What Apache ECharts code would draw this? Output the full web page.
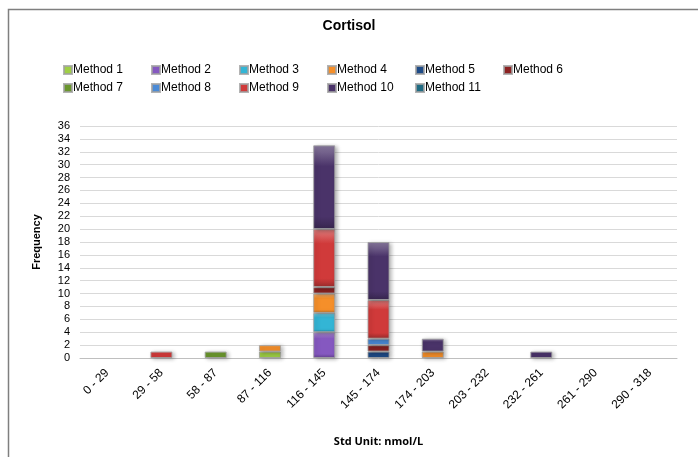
<!DOCTYPE html>
<html>
<head>
<meta charset="utf-8">
<script src="https://cdn.jsdelivr.net/npm/echarts@6/dist/echarts.min.js"></script>
<style>
html,body{margin:0;padding:0;background:#fff;}
#chart{width:698px;height:457px;}
</style>
</head>
<body>
<div id="chart"></div>
<script>
var categories = ['0 - 29','29 - 58','58 - 87','87 - 116','116 - 145','145 - 174','174 - 203','203 - 232','232 - 261','261 - 290','290 - 318'];
var seriesNames = ['Method 1','Method 2','Method 3','Method 4','Method 5','Method 6','Method 7','Method 8','Method 9','Method 10','Method 11'];
var method1  = [0,0,0,1,0,0,0,0,0,0,0];
var method2  = [0,0,0,0,4,0,0,0,0,0,0];
var method3  = [0,0,0,0,3,0,0,0,0,0,0];
var method4  = [0,0,0,1,3,0,1,0,0,0,0];
var method5  = [0,0,0,0,0,1,0,0,0,0,0];
var method6  = [0,0,0,0,1,1,0,0,0,0,0];
var method7  = [0,0,1,0,0,0,0,0,0,0,0];
var method8  = [0,0,0,0,0,1,0,0,0,0,0];
var method9  = [0,1,0,0,9,6,0,0,0,0,0];
var method10 = [0,0,0,0,13,9,2,0,1,0,0];
var method11 = [0,0,0,0,0,0,0,0,0,0,0];
var yTicks = {min:0, max:36, interval:2};

var values = [method1,method2,method3,method4,method5,method6,method7,method8,method9,method10,method11];
var colors = ['#9fcf45','#8558c0','#33b5d5','#f58f2a','#1e4b87','#8c2222','#6a962d','#4a8ad6','#d03a3a','#4a3369','#1f6b82'];

function shade(hex, amt){
  var n = parseInt(hex.slice(1),16);
  var r=(n>>16)&255,g=(n>>8)&255,b=n&255;
  function f(c){ return Math.max(0,Math.min(255,Math.round(amt>0? c+(255-c)*amt : c*(1+amt)))); }
  return 'rgb('+f(r)+','+f(g)+','+f(b)+')';
}

var series = seriesNames.map(function(name,i){
  var c = colors[i];
  return {
    name: name,
    type: 'bar',
    stack: 'total',
    barWidth: 22,
    data: values[i].map(function(v){ return v === 0 ? '-' : v; }),
    itemStyle: {
      color: {
        type:'linear', x:0, y:0, x2:0, y2:1,
        colorStops:[
          {offset:0, color: shade(c,0.35)},
          {offset:0.25, color: c},
          {offset:0.85, color: c},
          {offset:1, color: shade(c,-0.25)}
        ]
      },
      borderColor: 'rgba(160,160,160,0.8)',
      borderWidth: 1,
      shadowColor: 'rgba(0,0,0,0.3)',
      shadowBlur: 4,
      shadowOffsetX: 2,
      shadowOffsetY: 1
    }
  };
});

var font = "'Liberation Sans', Arial, sans-serif";
var legends = seriesNames.map(function(name,i){
  var col = i % 6, row = Math.floor(i / 6);
  return {
    data: [name],
    left: 63 + col * 88,
    top: 64 + row * 18,
    itemWidth: 8, itemHeight: 8, itemGap: 0,
    icon: 'rect',
    padding: 0,
    textStyle: {fontSize: 12, color: '#000', fontFamily: font, padding: [0,0,0,-4]}
  };
});

var chart = echarts.init(document.getElementById('chart'), null, {renderer:'canvas'});
chart.setOption({
  animation: false,
  color: colors,
  textStyle: {fontFamily: font},
  title: {
    text: 'Cortisol',
    left: 'center',
    top: 14,
    textStyle: {fontSize: 14, fontWeight: 'bold', color: '#000', fontFamily: font}
  },
  legend: legends,
  grid: {left: 80, right: 21, top: 126, bottom: 99, containLabel: false},
  xAxis: {
    type: 'category',
    data: categories,
    name: 'Std Unit: nmol/L',
    nameLocation: 'middle',
    nameGap: 78,
    nameTextStyle: {fontSize: 11, fontWeight: 'bold', color: '#000', fontFamily: "'Open Sans', 'Liberation Sans', sans-serif"},
    axisLine: {lineStyle: {color: '#bfbfbf', width: 1}},
    axisTick: {show: false},
    axisLabel: {rotate: 45, fontSize: 12, color: '#000', margin: 13, interval: 0, fontFamily: font}
  },
  yAxis: {
    type: 'value',
    min: yTicks.min, max: yTicks.max, interval: yTicks.interval,
    name: 'Frequency',
    nameLocation: 'middle',
    nameGap: 38,
    nameTextStyle: {fontSize: 11, fontWeight: 'bold', color: '#000', fontFamily: font},
    axisLine: {show: false},
    axisTick: {show: false},
    axisLabel: {fontSize: 11, color: '#000', margin: 10, fontFamily: font},
    splitLine: {lineStyle: {color: '#d9d9d9', width: 1}}
  },
  graphic: [{
    type: 'rect',
    shape: {x: 8.5, y: 9.5, width: 900, height: 700},
    style: {fill: 'none', stroke: '#7f7f7f', lineWidth: 1.5},
    silent: true,
    z: 0
  }],
  series: series
});
</script>
</body>
</html>
